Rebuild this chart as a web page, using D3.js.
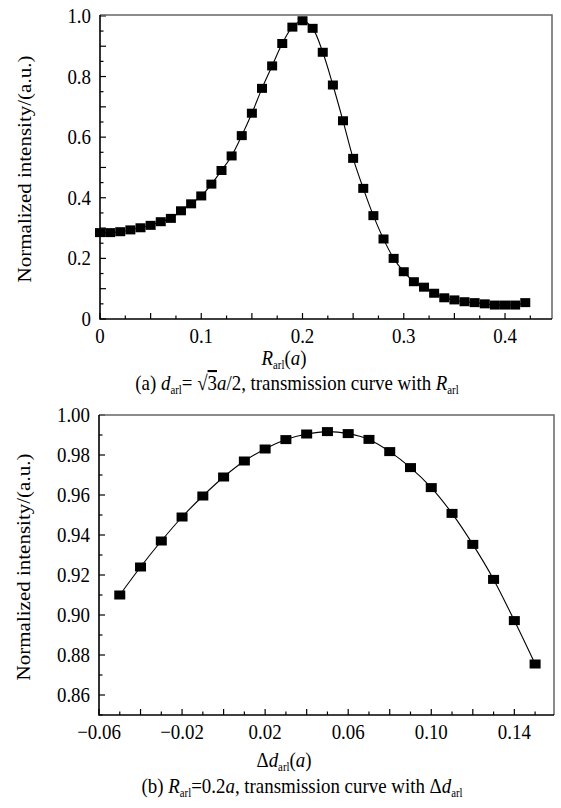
<!DOCTYPE html>
<html>
<head>
<meta charset="utf-8">
<script src="https://cdn.jsdelivr.net/npm/d3@7"></script>
<style>
  body { margin: 0; background: #fff; }
  svg, svg text { font-family: 'Liberation Serif', 'DejaVu Serif', serif; }
</style>
</head>
<body>
<div class="chart"></div>
<script>
var svgWidth = 561;
var svgHeight = 808;
var serif = "Liberation Serif, DejaVu Serif, serif";
var squeeze = 0.9;   // the scanned figure is a bit narrow horizontally

// (a) transmission vs R_arl
var radiusR = [0, 0.01, 0.02, 0.03, 0.04, 0.05, 0.06, 0.07, 0.08, 0.09, 0.10,
  0.11, 0.12, 0.13, 0.14, 0.15, 0.16, 0.17, 0.18, 0.19, 0.20, 0.21, 0.22,
  0.23, 0.24, 0.25, 0.26, 0.27, 0.28, 0.29, 0.30, 0.31, 0.32, 0.33, 0.34,
  0.35, 0.36, 0.37, 0.38, 0.39, 0.40, 0.41, 0.42];
var intensityA = [0.285, 0.285, 0.288, 0.294, 0.301, 0.309, 0.321, 0.332, 0.357,
  0.380, 0.406, 0.445, 0.490, 0.538, 0.605, 0.679, 0.761, 0.835, 0.909, 0.963,
  0.984, 0.959, 0.880, 0.772, 0.654, 0.530, 0.431, 0.341, 0.264, 0.200, 0.156,
  0.123, 0.105, 0.085, 0.070, 0.063, 0.057, 0.054, 0.050, 0.046, 0.046, 0.046,
  0.054];

// (b) transmission vs delta d_arl
var deltaD = [-0.05, -0.04, -0.03, -0.02, -0.01, 0, 0.01, 0.02, 0.03, 0.04,
  0.05, 0.06, 0.07, 0.08, 0.09, 0.10, 0.11, 0.12, 0.13, 0.14, 0.15];
var intensityB = [0.910, 0.924, 0.937, 0.949, 0.9595, 0.969, 0.977, 0.983,
  0.9877, 0.9905, 0.9917, 0.9907, 0.9878, 0.9817, 0.9737, 0.9637, 0.9508,
  0.9353, 0.9178, 0.8972, 0.8755];

var yTicksA = [0, 0.2, 0.4, 0.6, 0.8, 1.0];
var xTicksA = [0, 0.1, 0.2, 0.3, 0.4];
var yTicksB = [0.86, 0.88, 0.90, 0.92, 0.94, 0.96, 0.98, 1.00];
var xTicksB = [-0.06, -0.02, 0.02, 0.06, 0.10, 0.14];

var svg = d3.select(".chart")
  .append("svg")
  .attr("width", svgWidth)
  .attr("height", svgHeight)
  .attr("font-family", serif);

// draw one panel
function drawPanel(opt) {
  var x = d3.scaleLinear().domain(opt.xDomain).range([opt.left, opt.right]);
  var y = d3.scaleLinear().domain(opt.yDomain).range([opt.bottom, opt.top]);
  var g = svg.append("g");

  // minor / major ticks, inward
  function tickRange(domain, step) {
    var out = [];
    var n0 = Math.ceil(domain[0] / step - 1e-6), n1 = Math.floor(domain[1] / step + 1e-6);
    for (var i = n0; i <= n1; i++) out.push(i);
    return out;
  }
  tickRange(opt.xDomain, opt.xMinor).forEach(function(i) {
    var v = i * opt.xMinor;
    var len = (i % 2 === 0) ? 6 : 3.5;
    g.append("line")
      .attr("x1", x(v)).attr("x2", x(v))
      .attr("y1", opt.bottom).attr("y2", opt.bottom - len)
      .attr("stroke", "#000").attr("stroke-width", 1.2);
  });
  tickRange(opt.yDomain, opt.yMinor).forEach(function(i) {
    var v = i * opt.yMinor;
    var len = (i % 2 === 0) ? 6 : 3.5;
    g.append("line")
      .attr("x1", opt.left).attr("x2", opt.left + len)
      .attr("y1", y(v)).attr("y2", y(v))
      .attr("stroke", "#000").attr("stroke-width", 1.2);
  });

  // frame: top/right grey, left/bottom black
  g.append("path")
    .attr("d", `M${opt.left},${opt.top}H${opt.right}V${opt.bottom}`)
    .attr("fill", "none").attr("stroke", "#666").attr("stroke-width", 1.5);
  g.append("path")
    .attr("d", `M${opt.left},${opt.top}V${opt.bottom}H${opt.right}`)
    .attr("fill", "none").attr("stroke", "#000").attr("stroke-width", 1.6);

  // tick labels
  g.selectAll(".xl").data(opt.xTicks).enter().append("text")
    .attr("transform", d => `translate(${x(d)},${opt.bottom + 24}) scale(${squeeze},1)`)
    .attr("text-anchor", "middle")
    .attr("font-family", serif)
    .style("font-size", "21px")
    .text(opt.xFormat);
  g.selectAll(".yl").data(opt.yTicks).enter().append("text")
    .attr("transform", d => `translate(${opt.left - 9},${y(d) + 7}) scale(${squeeze},1)`)
    .attr("text-anchor", "end")
    .attr("font-family", serif)
    .style("font-size", "21px")
    .text(opt.yFormat);

  // y title
  g.append("text")
    .attr("transform", `translate(${opt.left - 69}, ${(opt.top + opt.bottom) / 2 + 2}) rotate(-90) scale(1,${squeeze})`)
    .attr("text-anchor", "middle")
    .attr("font-family", serif)
    .style("font-size", "21px")
    .text("Normalized intensity/(a.u.)");

  // data line + squares
  var pts = opt.xs.map((v, i) => [v, opt.ys[i]]);
  g.append("path")
    .datum(pts)
    .attr("d", d3.line().x(d => x(d[0])).y(d => y(d[1])).curve(d3.curveCatmullRom))
    .attr("fill", "none").attr("stroke", "#000").attr("stroke-width", 1.1);
  g.selectAll(".pt").data(pts).enter().append("rect")
    .attr("x", d => x(d[0]) - opt.sq[0] / 2)
    .attr("y", d => y(d[1]) - opt.sq[1] / 2)
    .attr("width", opt.sq[0]).attr("height", opt.sq[1])
    .attr("fill", "#000");

  return g;
}

var fmtA = d => d === 0 ? "0" : d3.format(".1f")(d);

var gA = drawPanel({
  left: 100, right: 552, top: 15, bottom: 319,
  xDomain: [0, 0.4464], yDomain: [0, 1.003],
  xMinor: 0.025, yMinor: 0.05,
  xTicks: xTicksA, yTicks: yTicksA,
  xFormat: fmtA, yFormat: fmtA,
  xs: radiusR, ys: intensityA, sq: [10, 9]
});

var gB = drawPanel({
  left: 99, right: 554, top: 415, bottom: 715,
  xDomain: [-0.06, 0.1591], yDomain: [0.85, 1.00],
  xMinor: 0.01, yMinor: 0.01,
  xTicks: xTicksB, yTicks: yTicksB,
  xFormat: d3.format(".2f"), yFormat: d3.format(".2f"),
  xs: deltaD, ys: intensityB, sq: [11, 9]
});

// helper to write rich text from pieces [text, style]
function richText(parent, cx, cy, pieces) {
  var t = parent.append("text")
    .attr("transform", `translate(${cx},${cy}) scale(${squeeze},1)`)
    .attr("text-anchor", "middle")
    .attr("font-family", serif)
    .style("font-size", "21px");
  pieces.forEach(function(p) {
    var s = t.append("tspan").text(p[0]);
    if (p[1] === "i") s.style("font-style", "italic");
    if (p[1] === "sub") s.style("font-size", "12px").attr("dy", 4);
    if (p[1] === "up") s.attr("dy", -4);
    if (p[1] === "ov") s.style("text-decoration", "overline");
  });
  return t;
}

// axis titles
richText(svg, 284, 365, [["R", "i"], ["arl", "sub"], ["(", "up"], ["a", "i"], [")", ""]]);
richText(svg, 284, 767, [["Δ", ""], ["d", "i"], ["arl", "sub"], ["(", "up"], ["a", "i"], [")", ""]]);

// captions
richText(svg, 297, 390, [["(a) ", ""], ["d", "i"], ["arl", "sub"], ["= √", "up"], ["3", "ov"],
  ["a", "i"], ["/2, transmission curve with ", ""], ["R", "i"], ["arl", "sub"]]);
richText(svg, 302, 793, [["(b) ", ""], ["R", "i"], ["arl", "sub"], ["=0.2", "up"],
  ["a", "i"], [", transmission curve with Δ", ""], ["d", "i"], ["arl", "sub"]]);
</script>
</body>
</html>
